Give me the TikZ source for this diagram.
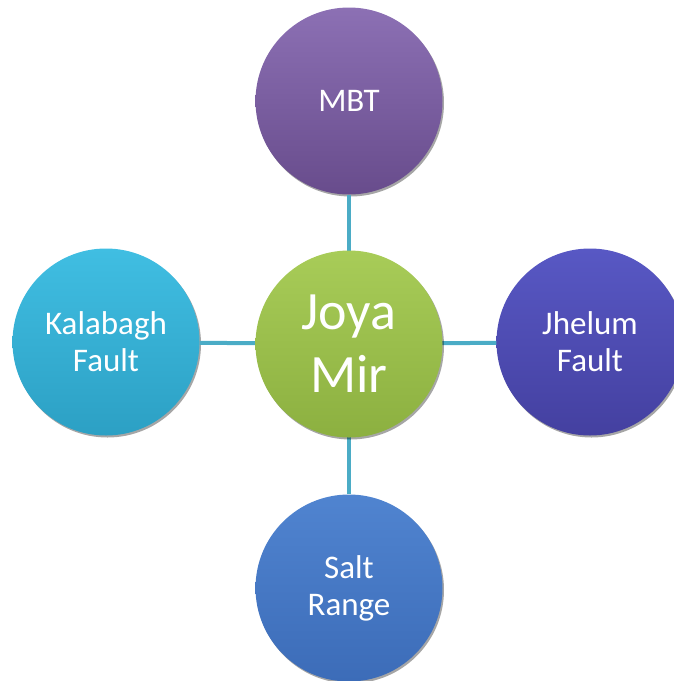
\documentclass[tikz,border=0pt]{standalone}
\usepackage{fontspec}
\setmainfont{Carlito}
\usetikzlibrary{shadows}
\definecolor{linkc}{HTML}{4BACC6}
\tikzset{
  x=1pt, y=-1pt,
  ball/.style={circle, minimum size=187pt, inner sep=0pt, text=white, align=center,
    font=\fontsize{33}{37}\selectfont,
    drop shadow={shadow xshift=1.5pt, shadow yshift=-2pt, opacity=0.35, fill=black}},
  link/.style={draw=linkc, line width=4pt}
}
\begin{document}
\begin{tikzpicture}
\useasboundingbox (0,0) rectangle (674,681);
\clip (0,0) rectangle (674,681);
\node[ball, top color={rgb,255:red,140;green,112;blue,180}, bottom color={rgb,255:red,104;green,76;blue,140}] (mbt) at (349,101) {MBT};
\node[ball, top color={rgb,255:red,88;green,88;blue,196}, bottom color={rgb,255:red,68;green,64;blue,160}] (jhe) at (590,342) {Jhelum\\Fault};
\node[ball, top color={rgb,255:red,64;green,190;blue,226}, bottom color={rgb,255:red,44;green,160;blue,196}] (kal) at (106,342) {Kalabagh\\Fault};
\node[ball, top color={rgb,255:red,80;green,132;blue,208}, bottom color={rgb,255:red,60;green,108;blue,184}] (salt) at (349,588) {Salt\\Range};
\draw[link] (mbt) -- (349,344);
\draw[link] (salt) -- (349,344);
\draw[link] (kal) -- (349,344);
\draw[link] (jhe) -- (349,344);
\node[ball, font=\fontsize{54}{63}\selectfont, top color={rgb,255:red,168;green,204;blue,88}, bottom color={rgb,255:red,140;green,176;blue,64}] (joya) at (349,344) {Joya\\Mir};
\end{tikzpicture}
\end{document}
